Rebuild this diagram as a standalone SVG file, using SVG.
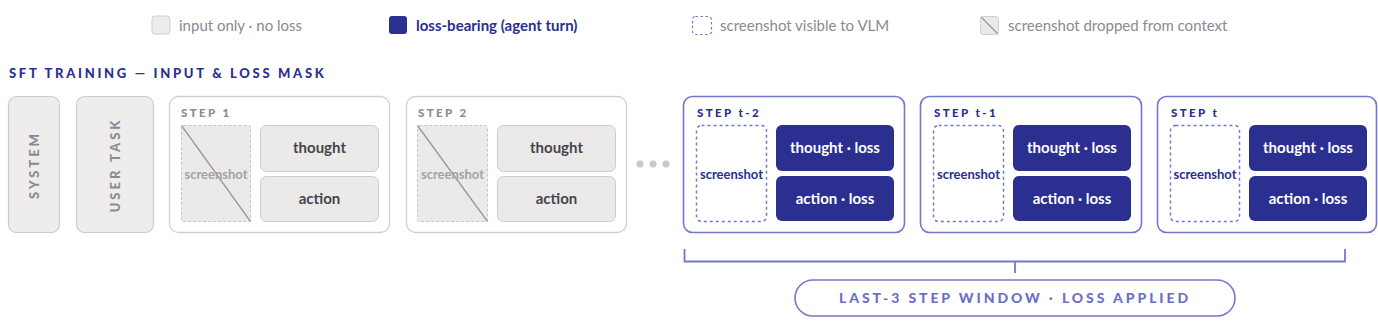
<svg xmlns="http://www.w3.org/2000/svg" width="1378" height="323" viewBox="0 0 1378 323">
<style>
text{font-family:Lato,"Liberation Sans",sans-serif}
.leg{font-size:15px;fill:#8a8a93}
.legb{font-size:15px;fill:#2b2f8f;font-weight:700}
.title{font-size:13px;font-weight:900;fill:#2b2f8f;letter-spacing:2.7px}
.gbox{fill:#eeedeb;stroke:#cdccca;stroke-width:1.2}
.vlab{font-size:13px;font-weight:900;fill:#8a8a95;letter-spacing:3px;text-anchor:middle}
.stepg{fill:#fff;stroke:#cfcfd1;stroke-width:1.3}
.stepn{fill:#fff;stroke:#7478c8;stroke-width:1.6}
.slabg{font-size:11.5px;font-weight:900;fill:#8a8a95;letter-spacing:2.4px}
.slabn{font-size:11.5px;font-weight:900;fill:#2b2f8f;letter-spacing:2.4px}
.shotg{fill:#eceae8;stroke:#c6c6c6;stroke-width:1;stroke-dasharray:3 2}
.shotn{fill:#fff;stroke:#7478c8;stroke-width:1.5;stroke-dasharray:3 3}
.diag{stroke:#9a9898;stroke-width:1.3}
.shtg{font-size:13px;font-weight:700;fill:#a3a2a8;text-anchor:middle}
.shtn{font-size:13px;font-weight:700;fill:#2b2f8f;text-anchor:middle}
.cell{fill:#eceae8;stroke:#cdccca;stroke-width:1}
.celln{fill:#2b2f8f}
.ctg{font-size:15px;font-weight:700;fill:#45454f;text-anchor:middle}
.ctn{font-size:15px;font-weight:700;fill:#fff;text-anchor:middle}
.br{stroke:#7478c8;stroke-width:1.8;fill:none}
.pill{font-size:14px;font-weight:900;fill:#6b6fc4;letter-spacing:2.9px;text-anchor:middle}
</style>
<g id="legend">
<rect x="152" y="16" width="18" height="18" rx="3" fill="#eeedeb" stroke="#d0cfcd"/>
<text class="leg" x="179" y="31">input only · no loss</text>
<rect x="389" y="16" width="18" height="18" rx="3" fill="#2b2f8f"/>
<text class="legb" x="416" y="31">loss-bearing (agent turn)</text>
<rect x="692.5" y="16.5" width="19" height="18" rx="3" fill="#fff" stroke="#7478c8" stroke-width="1.2" stroke-dasharray="2.5 2.5"/>
<text class="leg" x="720" y="31">screenshot visible to VLM</text>
<rect x="980.5" y="16.5" width="18" height="18" rx="3" fill="#eceae8" stroke="#d0cfcd"/>
<line x1="981" y1="17" x2="998" y2="34" stroke="#9a9898" stroke-width="1.2"/>
<text class="leg" x="1008" y="31">screenshot dropped from context</text>
</g>
<text class="title" x="9" y="78">SFT TRAINING — INPUT &amp; LOSS MASK</text>
<g id="system">
<rect class="gbox" x="8.5" y="96.5" width="51" height="136" rx="8"/>
<text class="vlab" transform="translate(39,165) rotate(-90)">SYSTEM</text>
</g>
<g id="user-task">
<rect class="gbox" x="76.5" y="96.5" width="77" height="136" rx="8"/>
<text class="vlab" transform="translate(120,165) rotate(-90)">USER TASK</text>
</g>
<g id="step-1">
<rect class="stepg" x="169.5" y="96.5" width="220" height="136" rx="9"/>
<text class="slabg" x="181" y="117">STEP 1</text>
<rect class="shotg" x="181.5" y="125.5" width="69" height="96" rx="2"/>
<line class="diag" x1="181.5" y1="125.5" x2="250.5" y2="221.5"/>
<text class="shtg" x="216" y="179">screenshot</text>
<rect class="cell" x="260.5" y="125.5" width="118" height="46" rx="6"/>
<text class="ctg" x="319.5" y="153">thought</text>
<rect class="cell" x="260.5" y="176.5" width="118" height="45" rx="6"/>
<text class="ctg" x="319.5" y="204">action</text>
</g>
<g id="step-2">
<rect class="stepg" x="406.5" y="96.5" width="220" height="136" rx="9"/>
<text class="slabg" x="418" y="117">STEP 2</text>
<rect class="shotg" x="417.5" y="125.5" width="70" height="96" rx="2"/>
<line class="diag" x1="417.5" y1="125.5" x2="487.5" y2="221.5"/>
<text class="shtg" x="452.5" y="179">screenshot</text>
<rect class="cell" x="497.5" y="125.5" width="118" height="46" rx="6"/>
<text class="ctg" x="556.5" y="153">thought</text>
<rect class="cell" x="497.5" y="176.5" width="118" height="45" rx="6"/>
<text class="ctg" x="556.5" y="204">action</text>
</g>
<g id="ellipsis" fill="#c8c8d0">
<circle cx="640" cy="164" r="3.5"/>
<circle cx="653" cy="164" r="3.5"/>
<circle cx="666" cy="164" r="3.5"/>
</g>
<g id="step-t-2">
<rect class="stepn" x="683.5" y="96.5" width="221" height="136" rx="9"/>
<text class="slabn" x="697" y="117">STEP t-2</text>
<rect class="shotn" x="696.5" y="125.5" width="70" height="96" rx="5"/>
<text class="shtn" x="731.5" y="179">screenshot</text>
<rect class="celln" x="776" y="125" width="118" height="46" rx="6"/>
<text class="ctn" x="835" y="153">thought · loss</text>
<rect class="celln" x="776" y="176" width="118" height="45" rx="6"/>
<text class="ctn" x="835" y="204">action · loss</text>
</g>
<g id="step-t-1">
<rect class="stepn" x="920.5" y="96.5" width="221" height="136" rx="9"/>
<text class="slabn" x="934" y="117">STEP t-1</text>
<rect class="shotn" x="933.5" y="125.5" width="70" height="96" rx="5"/>
<text class="shtn" x="968.5" y="179">screenshot</text>
<rect class="celln" x="1013" y="125" width="118" height="46" rx="6"/>
<text class="ctn" x="1072" y="153">thought · loss</text>
<rect class="celln" x="1013" y="176" width="118" height="45" rx="6"/>
<text class="ctn" x="1072" y="204">action · loss</text>
</g>
<g id="step-t">
<rect class="stepn" x="1157.5" y="96.5" width="219" height="136" rx="9"/>
<text class="slabn" x="1171" y="117">STEP t</text>
<rect class="shotn" x="1170.5" y="125.5" width="69" height="96" rx="5"/>
<text class="shtn" x="1205" y="179">screenshot</text>
<rect class="celln" x="1249" y="125" width="118" height="46" rx="6"/>
<text class="ctn" x="1308" y="153">thought · loss</text>
<rect class="celln" x="1249" y="176" width="118" height="45" rx="6"/>
<text class="ctn" x="1308" y="204">action · loss</text>
</g>
<g id="connectors">
<path class="br" d="M684.5 249 V261.5 H1345 V249 M1015 261.5 V273"/>
</g>
<g id="window-label">
<rect x="795" y="280" width="440" height="36" rx="18" fill="#fff" stroke="#7478c8" stroke-width="1.6"/>
<text class="pill" x="1015" y="303">LAST-3 STEP WINDOW · LOSS APPLIED</text>
</g>
</svg>
